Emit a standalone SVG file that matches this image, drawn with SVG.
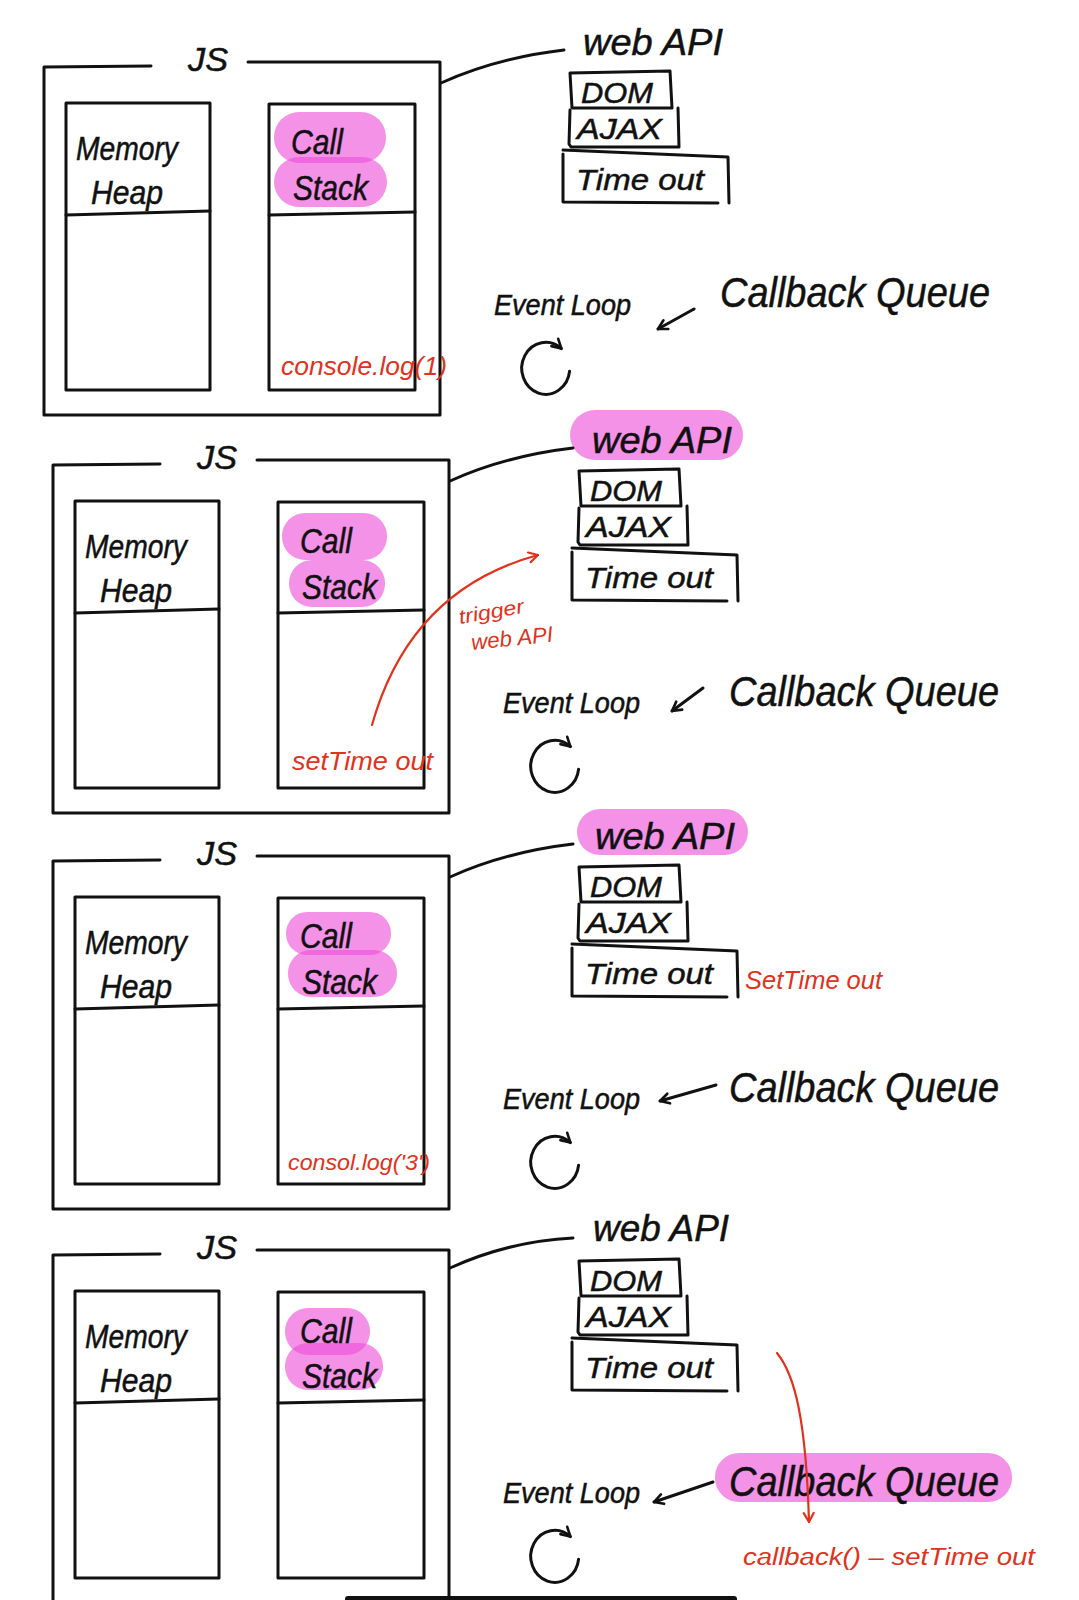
<svg xmlns="http://www.w3.org/2000/svg" width="1079" height="1600" viewBox="0 0 1079 1600">
<style>
.ln{fill:none;stroke:#111;stroke-width:3;stroke-linecap:round;stroke-linejoin:round}
.rl{fill:none;stroke:#e0321c;stroke-width:2.2;stroke-linecap:round;stroke-linejoin:round}
.hw{font-family:"Liberation Sans",Arial,sans-serif;font-style:italic;fill:#111;stroke:#111;stroke-width:0.5}
.red{font-family:"Liberation Sans",Arial,sans-serif;font-style:italic;fill:#e0321c}
.hl{fill:#ee4fd8;fill-opacity:0.62}
</style>
<defs>
<marker id="ah" viewBox="0 0 14 14" refX="11" refY="7" markerWidth="14" markerHeight="14" markerUnits="userSpaceOnUse" orient="auto">
<path d="M2,2 L11,7 L2,12" fill="none" stroke="#111" stroke-width="2.6" stroke-linecap="round" stroke-linejoin="round"/>
</marker>
<marker id="ahr" viewBox="0 0 14 14" refX="11" refY="7" markerWidth="14" markerHeight="14" markerUnits="userSpaceOnUse" orient="auto">
<path d="M2,2 L11,7 L2,12" fill="none" stroke="#e0321c" stroke-width="2.2" stroke-linecap="round" stroke-linejoin="round"/>
</marker>
</defs>
<rect width="1079" height="1600" fill="#fff"/>

<!-- ================= PANEL 1 ================= -->
<g id="panel1" transform="translate(-9,-398)">
  <g id="p1-js">
    <path class="ln" d="M160,464 L53,465 L53,813 L449,813 L449,460 L257,460"/>
    <text class="hw" x="197" y="469" font-size="34" textLength="40" lengthAdjust="spacingAndGlyphs">JS</text>
  </g>
  <g id="p1-memory">
    <rect class="ln" x="75" y="501" width="144" height="287"/>
    <path class="ln" d="M75,613 L219,609"/>
    <text class="hw" x="85" y="558" font-size="33" textLength="102" lengthAdjust="spacingAndGlyphs">Memory</text>
    <text class="hw" x="100" y="602" font-size="33" textLength="72" lengthAdjust="spacingAndGlyphs">Heap</text>
  </g>
  <g id="p1-callstack">
    <rect class="hl" x="283" y="510" width="112" height="51" rx="25"/>
    <rect class="hl" x="283" y="555" width="113" height="50" rx="25"/>
    <rect class="ln" x="278" y="502" width="146" height="286"/>
    <path class="ln" d="M278,613 L424,610"/>
    <text class="hw" x="300" y="552" font-size="35" textLength="52" lengthAdjust="spacingAndGlyphs">Call</text>
    <text class="hw" x="302" y="598" font-size="35" textLength="75" lengthAdjust="spacingAndGlyphs">Stack</text>
    <text class="red" x="290" y="773" font-size="25" textLength="166" lengthAdjust="spacingAndGlyphs">console.log(1)</text>
  </g>
  <g id="p1-webapi">
    <text class="hw" x="592" y="453" font-size="37" textLength="140" lengthAdjust="spacingAndGlyphs">web API</text>
  </g>
  <g id="p1-dom">
    <path class="ln" d="M581,506 L579,471 L679,469 L681,506 Z"/>
    <text class="hw" x="590" y="501" font-size="29" textLength="72" lengthAdjust="spacingAndGlyphs">DOM</text>
  </g>
  <g id="p1-ajax">
    <path class="ln" d="M579,508 L578,542 L580,545 L688,545 L687,506"/>
    <text class="hw" x="586" y="537" font-size="29" textLength="85" lengthAdjust="spacingAndGlyphs">AJAX</text>
  </g>
  <g id="p1-timeout">
    <path class="ln" d="M572,548 L737,555 L738,601 M572,552 L572,600 L727,601"/>
    <text class="hw" x="585" y="588" font-size="30" textLength="128" lengthAdjust="spacingAndGlyphs">Time out</text>
  </g>
  <g id="p1-eventloop">
    <text class="hw" x="503" y="713" font-size="29" textLength="137" lengthAdjust="spacingAndGlyphs">Event Loop</text>
    <path class="ln" d="M578.6,769.2 A24,26 0 1 1 570.4,746.6" marker-end="url(#ah)"/>
  </g>
  <g id="p1-queue">
    <text class="hw" x="729" y="705" font-size="43" textLength="270" lengthAdjust="spacingAndGlyphs">Callback Queue</text>
  </g>
</g>

<!-- ================= PANEL 2 ================= -->
<g id="panel2">
  <g id="p2-js">
    <path class="ln" d="M160,464 L53,465 L53,813 L449,813 L449,460 L257,460"/>
    <text class="hw" x="197" y="469" font-size="34" textLength="40" lengthAdjust="spacingAndGlyphs">JS</text>
  </g>
  <g id="p2-memory">
    <rect class="ln" x="75" y="501" width="144" height="287"/>
    <path class="ln" d="M75,613 L219,609"/>
    <text class="hw" x="85" y="558" font-size="33" textLength="102" lengthAdjust="spacingAndGlyphs">Memory</text>
    <text class="hw" x="100" y="602" font-size="33" textLength="72" lengthAdjust="spacingAndGlyphs">Heap</text>
  </g>
  <g id="p2-callstack">
    <rect class="hl" x="282" y="513" width="105" height="47" rx="23"/>
    <rect class="hl" x="289" y="560" width="96" height="47" rx="23"/>
    <rect class="ln" x="278" y="502" width="146" height="286"/>
    <path class="ln" d="M278,613 L424,610"/>
    <text class="hw" x="300" y="553" font-size="35" textLength="52" lengthAdjust="spacingAndGlyphs">Call</text>
    <text class="hw" x="302" y="599" font-size="35" textLength="75" lengthAdjust="spacingAndGlyphs">Stack</text>
    <text class="red" x="292" y="770" font-size="26" textLength="141" lengthAdjust="spacingAndGlyphs">setTime out</text>
  </g>
  <g id="p2-webapi">
    <rect class="hl" x="570" y="410" width="173" height="50" rx="25"/>
    <text class="hw" x="592" y="453" font-size="37" textLength="140" lengthAdjust="spacingAndGlyphs">web API</text>
  </g>
  <g id="p2-dom">
    <path class="ln" d="M581,506 L579,471 L679,469 L681,506 Z"/>
    <text class="hw" x="590" y="501" font-size="29" textLength="72" lengthAdjust="spacingAndGlyphs">DOM</text>
  </g>
  <g id="p2-ajax">
    <path class="ln" d="M579,508 L578,542 L580,545 L688,545 L687,506"/>
    <text class="hw" x="586" y="537" font-size="29" textLength="85" lengthAdjust="spacingAndGlyphs">AJAX</text>
  </g>
  <g id="p2-timeout">
    <path class="ln" d="M572,548 L737,555 L738,601 M572,552 L572,600 L727,601"/>
    <text class="hw" x="585" y="588" font-size="30" textLength="128" lengthAdjust="spacingAndGlyphs">Time out</text>
  </g>
  <g id="p2-eventloop">
    <text class="hw" x="503" y="713" font-size="29" textLength="137" lengthAdjust="spacingAndGlyphs">Event Loop</text>
    <path class="ln" d="M578.6,769.2 A24,26 0 1 1 570.4,746.6" marker-end="url(#ah)"/>
  </g>
  <g id="p2-queue">
    <text class="hw" x="729" y="706" font-size="43" textLength="270" lengthAdjust="spacingAndGlyphs">Callback Queue</text>
  </g>
  <g id="p2-trigger-label">
    <text class="red" x="460" y="624" font-size="20" textLength="66" lengthAdjust="spacingAndGlyphs" transform="rotate(-10 460 624)">trigger</text>
    <text class="red" x="472" y="650" font-size="22" textLength="82" lengthAdjust="spacingAndGlyphs" transform="rotate(-6 472 650)">web API</text>
  </g>
</g>

<!-- ================= PANEL 3 ================= -->
<g id="panel3" transform="translate(0,396)">
  <g id="p3-js">
    <path class="ln" d="M160,464 L53,465 L53,813 L449,813 L449,460 L257,460"/>
    <text class="hw" x="197" y="469" font-size="34" textLength="40" lengthAdjust="spacingAndGlyphs">JS</text>
  </g>
  <g id="p3-memory">
    <rect class="ln" x="75" y="501" width="144" height="287"/>
    <path class="ln" d="M75,613 L219,609"/>
    <text class="hw" x="85" y="558" font-size="33" textLength="102" lengthAdjust="spacingAndGlyphs">Memory</text>
    <text class="hw" x="100" y="602" font-size="33" textLength="72" lengthAdjust="spacingAndGlyphs">Heap</text>
  </g>
  <g id="p3-callstack">
    <rect class="hl" x="286" y="516" width="105" height="43" rx="21"/>
    <rect class="hl" x="288" y="554" width="109" height="47" rx="23"/>
    <rect class="ln" x="278" y="502" width="146" height="286"/>
    <path class="ln" d="M278,613 L424,610"/>
    <text class="hw" x="300" y="552" font-size="35" textLength="52" lengthAdjust="spacingAndGlyphs">Call</text>
    <text class="hw" x="302" y="598" font-size="35" textLength="75" lengthAdjust="spacingAndGlyphs">Stack</text>
    <text class="red" x="288" y="774" font-size="22" textLength="142" lengthAdjust="spacingAndGlyphs">consol.log('3')</text>
  </g>
  <g id="p3-webapi">
    <rect class="hl" x="577" y="413" width="171" height="46" rx="23"/>
    <text class="hw" x="595" y="453" font-size="37" textLength="140" lengthAdjust="spacingAndGlyphs">web API</text>
  </g>
  <g id="p3-dom">
    <path class="ln" d="M581,506 L579,471 L679,469 L681,506 Z"/>
    <text class="hw" x="590" y="501" font-size="29" textLength="72" lengthAdjust="spacingAndGlyphs">DOM</text>
  </g>
  <g id="p3-ajax">
    <path class="ln" d="M579,508 L578,542 L580,545 L688,545 L687,506"/>
    <text class="hw" x="586" y="537" font-size="29" textLength="85" lengthAdjust="spacingAndGlyphs">AJAX</text>
  </g>
  <g id="p3-timeout">
    <path class="ln" d="M572,548 L737,555 L738,601 M572,552 L572,600 L727,601"/>
    <text class="hw" x="585" y="588" font-size="30" textLength="128" lengthAdjust="spacingAndGlyphs">Time out</text>
    <text class="red" x="745" y="593" font-size="25" textLength="137" lengthAdjust="spacingAndGlyphs">SetTime out</text>
  </g>
  <g id="p3-eventloop">
    <text class="hw" x="503" y="713" font-size="29" textLength="137" lengthAdjust="spacingAndGlyphs">Event Loop</text>
    <path class="ln" d="M578.6,769.2 A24,26 0 1 1 570.4,746.6" marker-end="url(#ah)"/>
  </g>
  <g id="p3-queue">
    <text class="hw" x="729" y="706" font-size="43" textLength="270" lengthAdjust="spacingAndGlyphs">Callback Queue</text>
  </g>
</g>

<!-- ================= PANEL 4 ================= -->
<g id="panel4" transform="translate(0,790)">
  <g id="p4-js">
    <path class="ln" d="M160,464 L53,465 L53,813 L449,813 L449,460 L257,460"/>
    <text class="hw" x="197" y="469" font-size="34" textLength="40" lengthAdjust="spacingAndGlyphs">JS</text>
  </g>
  <g id="p4-memory">
    <rect class="ln" x="75" y="501" width="144" height="287"/>
    <path class="ln" d="M75,613 L219,609"/>
    <text class="hw" x="85" y="558" font-size="33" textLength="102" lengthAdjust="spacingAndGlyphs">Memory</text>
    <text class="hw" x="100" y="602" font-size="33" textLength="72" lengthAdjust="spacingAndGlyphs">Heap</text>
  </g>
  <g id="p4-callstack">
    <rect class="hl" x="285" y="518" width="85" height="47" rx="23"/>
    <rect class="hl" x="285" y="553" width="98" height="47" rx="23"/>
    <rect class="ln" x="278" y="502" width="146" height="286"/>
    <path class="ln" d="M278,613 L424,610"/>
    <text class="hw" x="300" y="553" font-size="35" textLength="52" lengthAdjust="spacingAndGlyphs">Call</text>
    <text class="hw" x="302" y="598" font-size="35" textLength="75" lengthAdjust="spacingAndGlyphs">Stack</text>
  </g>
  <g id="p4-webapi">
    <text class="hw" x="593" y="451" font-size="37" textLength="136" lengthAdjust="spacingAndGlyphs">web API</text>
  </g>
  <g id="p4-dom">
    <path class="ln" d="M581,506 L579,471 L679,469 L681,506 Z"/>
    <text class="hw" x="590" y="501" font-size="29" textLength="72" lengthAdjust="spacingAndGlyphs">DOM</text>
  </g>
  <g id="p4-ajax">
    <path class="ln" d="M579,508 L578,542 L580,545 L688,545 L687,506"/>
    <text class="hw" x="586" y="537" font-size="29" textLength="85" lengthAdjust="spacingAndGlyphs">AJAX</text>
  </g>
  <g id="p4-timeout">
    <path class="ln" d="M572,548 L737,555 L738,601 M572,552 L572,600 L727,601"/>
    <text class="hw" x="585" y="588" font-size="30" textLength="128" lengthAdjust="spacingAndGlyphs">Time out</text>
  </g>
  <g id="p4-eventloop">
    <text class="hw" x="503" y="713" font-size="29" textLength="137" lengthAdjust="spacingAndGlyphs">Event Loop</text>
    <path class="ln" d="M578.6,769.2 A24,26 0 1 1 570.4,746.6" marker-end="url(#ah)"/>
  </g>
  <g id="p4-queue">
    <rect class="hl" x="715" y="663" width="297" height="49" rx="24"/>
    <text class="hw" x="729" y="706" font-size="43" textLength="270" lengthAdjust="spacingAndGlyphs">Callback Queue</text>
    <text class="red" x="743" y="775" font-size="23" textLength="292" lengthAdjust="spacingAndGlyphs">callback() – setTime out</text>
  </g>
</g>

<!-- ================= CONNECTORS ================= -->
<g id="connectors">
  <!-- JS box to web API -->
  <path class="ln" transform="translate(-9,-398)" d="M450,481 C490,463 530,453 573,448"/>
  <path class="ln" d="M450,481 C490,463 530,453 573,448"/>
  <path class="ln" transform="translate(0,396)" d="M450,481 C490,463 530,453 573,448"/>
  <path class="ln" transform="translate(0,790)" d="M450,478 C490,460 530,450 573,448"/>
  <!-- Callback Queue to Event Loop -->
  <path class="ln" d="M694,309 L658,329" marker-end="url(#ah)"/>
  <path class="ln" d="M703,688 L672,711" marker-end="url(#ah)"/>
  <path class="ln" d="M716,1085 L660,1101" marker-end="url(#ah)"/>
  <path class="ln" d="M713,1482 L654,1502" marker-end="url(#ah)"/>
  <!-- red: trigger web API -->
  <path class="rl" d="M372,725 Q410,590 538,555" marker-end="url(#ahr)"/>
  <!-- red: Time out to Callback Queue -->
  <path class="rl" d="M777,1353 C795,1375 806,1420 809,1522" marker-end="url(#ahr)"/>
</g>

<rect x="345" y="1596" width="392" height="6" rx="3" fill="#111"/>
</svg>
